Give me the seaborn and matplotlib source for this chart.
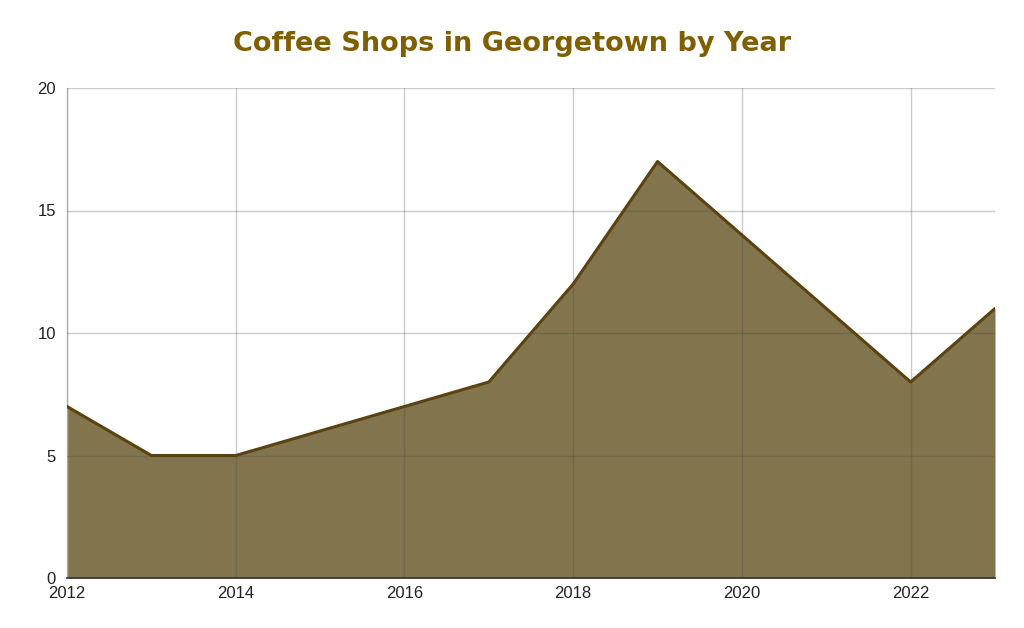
import matplotlib
matplotlib.use("Agg")
import matplotlib.pyplot as plt
import seaborn as sns
import pandas as pd

years = [2012, 2013, 2014, 2015, 2016, 2017, 2018, 2019, 2020, 2021, 2022, 2023]
shops = [7, 5, 5, 6, 7, 8, 12, 17, 14, 11, 8, 11]
x_ticks = [2012, 2014, 2016, 2018, 2020, 2022]
y_ticks = [0, 5, 10, 15, 20]
title = "Coffee Shops in Georgetown by Year"

df = pd.DataFrame({"year": years, "shops": shops})

sns.set_style("white")
plt.rcParams["font.family"] = ["Liberation Sans", "DejaVu Sans"]

fig = plt.figure(figsize=(10.24, 6.28), dpi=100)
ax = fig.add_axes([67/1024, 1 - 578/628, (995-67)/1024, (578-88)/628])

ax.fill_between(df["year"], df["shops"], 0, color="#82754d", linewidth=0, zorder=1)
sns.lineplot(data=df, x="year", y="shops", ax=ax, color="#5a4311", linewidth=2.2, zorder=4)

ax.set_xlim(2012, 2023)
ax.set_ylim(0, 20)
ax.set_xticks(x_ticks)
ax.set_yticks(y_ticks)
ax.set_axisbelow(False)
ax.grid(True, color="#444444", alpha=0.27, linewidth=1, zorder=2)
ax.tick_params(axis="both", length=0, labelsize=12, colors="#222222", pad=6)
ax.tick_params(axis="y", pad=8)
ax.set_xlabel("")
ax.set_ylabel("")

for s in ["top", "right"]:
    ax.spines[s].set_visible(False)
ax.spines["left"].set_color("#cccccc")
ax.spines["left"].set_linewidth(1)
ax.spines["bottom"].set_color("#333333")
ax.spines["bottom"].set_linewidth(1.2)
ax.spines["bottom"].set_zorder(5)

fig.text(0.5, 1 - 44/628, title, ha="center", va="center",
         fontsize=19.5, fontweight="bold", color="#7f5f00",
         family=["DejaVu Sans"])

fig.savefig("out.png", dpi=100)
